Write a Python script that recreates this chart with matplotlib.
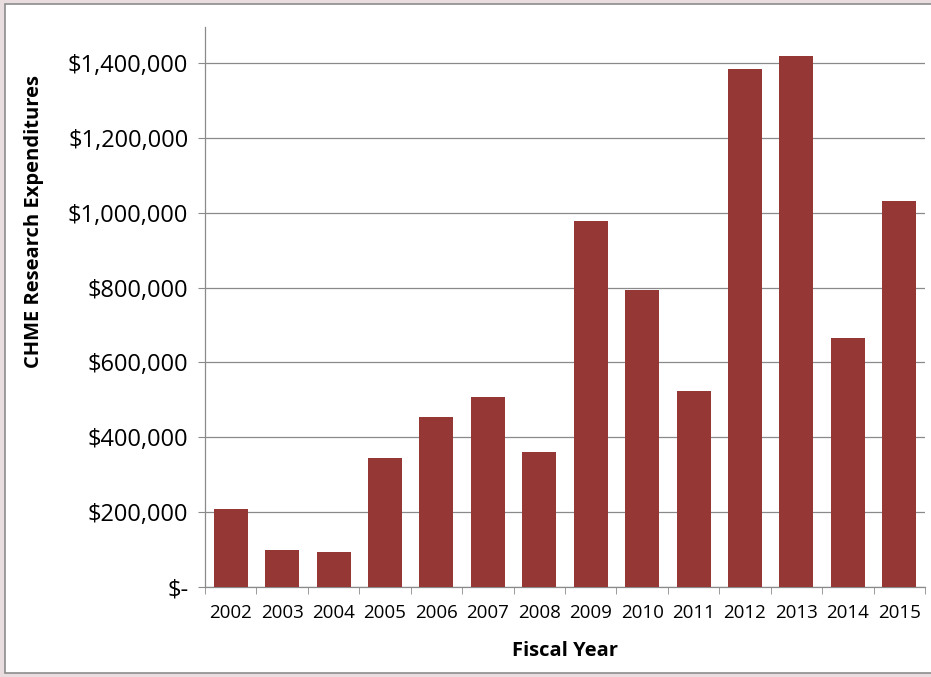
import matplotlib
matplotlib.use("Agg")
import matplotlib.pyplot as plt
from matplotlib.patches import Rectangle
import numpy as np

plt.rcParams['font.family'] = ['Open Sans', 'DejaVu Sans']

years = ['2002', '2003', '2004', '2005', '2006', '2007', '2008',
         '2009', '2010', '2011', '2012', '2013', '2014', '2015']
spend = [208000, 99000, 94000, 345000, 454000, 508000, 361000,
         978000, 793000, 524000, 1384000, 1419000, 665000, 1031000]
yticks = [0, 200000, 400000, 600000, 800000, 1000000, 1200000, 1400000]

fig = plt.figure(figsize=(9.31, 6.77), dpi=100, facecolor='#eadde0')
# white chart frame on top of the slide background
fig.patches.append(Rectangle((5/931, 4/677), 1.0, 669/677, transform=fig.transFigure,
                             facecolor='white', edgecolor='#8c8c8c', linewidth=1.2, zorder=-1))

ax = fig.add_axes([205/931, 1 - 587/677, 720/931, 560/677])
ax.set_facecolor('none')

x = np.arange(len(years))
ax.bar(x, spend, width=0.66, color='#953735', zorder=3)

ax.set_xlim(-0.5, len(years) - 0.5)
ax.set_ylim(0, 1496000)
ax.set_yticks(yticks)
ax.set_yticklabels(['$-' if v == 0 else f'${v:,.0f}' for v in yticks])
ax.yaxis.grid(True, color='#8a8a8a', linewidth=0.9, zorder=0)

ax.set_xticks(x)
ax.set_xticklabels(years)
ax.set_xticks(np.arange(len(years) + 1) - 0.5, minor=True)
ax.tick_params(axis='x', which='major', length=0, labelsize=13.5, pad=12)
ax.tick_params(axis='x', which='minor', length=5, color='#8a8a8a', direction='out')
ax.tick_params(axis='y', length=5, color='#8a8a8a', labelsize=17, pad=7)

for s in ['top', 'right']:
    ax.spines[s].set_visible(False)
for s in ['left', 'bottom']:
    ax.spines[s].set_color('#8a8a8a')
    ax.spines[s].set_linewidth(0.9)

ax.set_xlabel('Fiscal Year', fontsize=14.5, fontweight='bold', labelpad=14)
ax.set_ylabel('CHME Research Expenditures', fontsize=14.5, fontweight='bold')
# the label sits above the middle of the axis in the original
ax.yaxis.set_label_coords(-0.223, 0.652)

fig.savefig('out.png', dpi=100, facecolor=fig.get_facecolor())
